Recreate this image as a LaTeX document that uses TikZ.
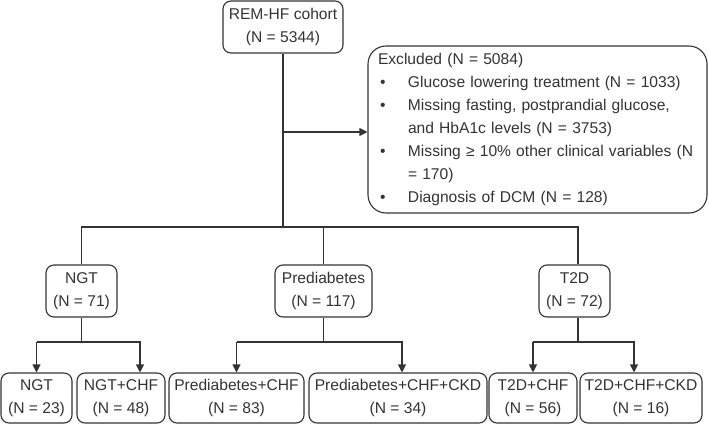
\documentclass[tikz,border=0pt]{standalone}
\usepackage{fontspec}
\setmainfont{Liberation Sans}
\usetikzlibrary{arrows.meta}
\definecolor{ink}{HTML}{333333}
\newcommand{\chartfont}{\fontsize{15.6pt}{23pt}\selectfont}
\newcommand{\exitem}{\makebox[30pt][l]{\hspace{2pt}\textbullet}}
\tikzset{every path/.style={ink,line width=1.1pt}, every node/.style={font=\chartfont, text=ink, inner sep=2pt},
  box/.style={draw, rounded corners=8pt, align=center, minimum height=52pt},
  lowbox/.style={box, minimum height=50pt},
  exbox/.style={draw, rounded corners=18pt, align=left, text width=319pt, inner xsep=10pt, minimum height=167pt},
  tip/.style={-{Triangle[length=8pt,width=8pt]}}}

\begin{document}
\begin{tikzpicture}[x=1pt,y=-1pt]
  \useasboundingbox (0,0) rectangle (709,425);

  \node[box,minimum width=120pt] (cohort) at (283,27) {REM-HF cohort\\(N = 5344)};
  \node[exbox] (excl) at (537.5,129.5) {Excluded (N = 5084)\\
   \exitem Glucose lowering treatment (N = 1033)\\
   \exitem\makebox[287pt][s]{Missing fasting, postprandial glucose,}\\
   \hspace*{30pt}and HbA1c levels (N = 3753)\\
   \exitem\makebox[287pt][s]{Missing ≥ 10\% other clinical variables (N}\\
   \hspace*{30pt}= 170)\\
   \exitem Diagnosis of DCM (N = 128)};

  \node[box,minimum width=71pt] (ngt) at (81.5,291) {NGT\\(N = 71)};
  \node[box,minimum width=97pt] (pre) at (323.5,291) {Prediabetes\\(N = 117)};
  \node[box,minimum width=71pt] (t2d) at (574.5,291) {T2D\\(N = 72)};

  \node[lowbox,minimum width=71pt] (ngtA) at (36.5,398) {NGT\\(N = 23)};
  \node[lowbox,minimum width=88pt] (ngtB) at (121,398) {NGT+CHF\\(N = 48)};
  \node[lowbox,minimum width=135pt] (preA) at (236.5,398) {Prediabetes+CHF\\(N = 83)};
  \node[lowbox,minimum width=178pt] (preB) at (398,398) {Prediabetes+CHF+CKD\\(N = 34)};
  \node[lowbox,minimum width=88pt] (t2dA) at (533,398) {T2D+CHF\\(N = 56)};
  \node[lowbox,minimum width=122pt] (t2dB) at (641,398) {T2D+CHF+CKD\\(N = 16)};

  \coordinate (split) at (0,227);
  \coordinate (subsplit) at (0,342);

  \draw (cohort.south) -- (cohort.south |- split);
  \draw[tip] (cohort.south |- 0,132) -- (excl.west |- 0,132);
  \draw (ngt.north) -- (ngt.north |- split) -- ([xshift=3.5pt]t2d.north |- split) -- ([xshift=3.5pt]t2d.north);
  \draw (pre.north) -- (pre.north |- split);

  \draw (ngt.south) -- (ngt.south |- subsplit);
  \draw[tip] (ngtA.north |- subsplit) -- (ngtA.north);
  \draw[tip] (ngtA.north |- subsplit) -- ([xshift=19pt]ngtB.north |- subsplit) -- ([xshift=19pt]ngtB.north);
  \draw (pre.south) -- (pre.south |- subsplit);
  \draw[tip] (preA.north |- subsplit) -- (preA.north);
  \draw[tip] (preA.north |- subsplit) -- ([xshift=4pt]preB.north |- subsplit) -- ([xshift=4pt]preB.north);
  \draw ([xshift=3.5pt]t2d.south) -- ([xshift=3.5pt]t2d.south |- subsplit);
  \draw[tip] (t2dA.north |- subsplit) -- (t2dA.north);
  \draw[tip] (t2dA.north |- subsplit) -- ([xshift=-7pt]t2dB.north |- subsplit) -- ([xshift=-7pt]t2dB.north);
\end{tikzpicture}
\end{document}
